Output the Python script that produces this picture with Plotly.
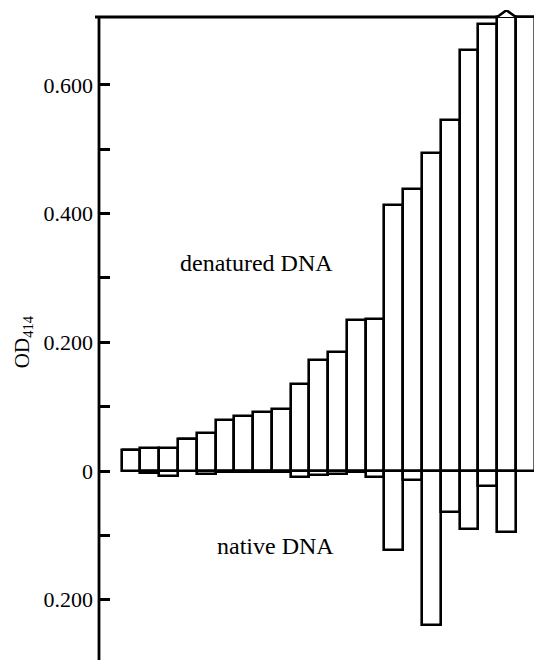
import plotly.graph_objects as go

# ---- data ----
fractions = list(range(1, 23))
denatured = [0.033, 0.036, 0.035, 0.049, 0.059, 0.079, 0.085, 0.091, 0.096, 0.135,
             0.173, 0.185, 0.234, 0.236, 0.413, 0.438, 0.494, 0.545, 0.655, 0.694,
             0.7055, 0.7055]
native = [0.0, -0.003, -0.007, 0.0, -0.005, -0.001, -0.001, -0.001, -0.002, -0.010,
          -0.006, -0.005, -0.002, -0.010, -0.122, -0.014, -0.240, -0.064, -0.090, -0.024,
          -0.095, None]
offscale_fraction = 21  # bar drawn with a pointed (off-scale) top

major_vals = [-0.2, 0.0, 0.2, 0.4, 0.6]
major_text = ["0.200", "0", "0.200", "0.400", "0.600"]
minor_vals = [-0.1, 0.1, 0.3, 0.5]

FRAME_TOP = 0.7055          # value at the top frame line
Y_RANGE = [-0.2937, 0.7164]
X_RANGE = [-0.709, 22.892]
FONT = "Liberation Serif"
LW = 2.6

fig = go.Figure()
bar_style = dict(marker=dict(color="white", line=dict(color="black", width=LW)), width=1.0)
fig.add_trace(go.Bar(x=fractions, y=denatured, name="denatured DNA", **bar_style))
fig.add_trace(go.Bar(x=fractions, y=native, name="native DNA", **bar_style))

# pointed top marking the off-scale bar
fig.add_trace(go.Scatter(
    x=[offscale_fraction - 0.5, offscale_fraction, offscale_fraction + 0.5],
    y=[FRAME_TOP, FRAME_TOP + 0.0105, FRAME_TOP],
    mode="lines", line=dict(color="black", width=LW),
    fill="toself", fillcolor="white", hoverinfo="skip"))

fig.update_layout(
    width=534, height=652, autosize=False,
    margin=dict(l=91, r=0, t=2, b=0, pad=0),
    paper_bgcolor="white", plot_bgcolor="white",
    barmode="relative", bargap=0, showlegend=False,
    font=dict(family=FONT, size=22, color="black"),
    xaxis=dict(range=X_RANGE, showline=False, showticklabels=False, ticks="",
               showgrid=False, zeroline=False),
    yaxis=dict(range=Y_RANGE, showline=False,
               tickmode="array", tickvals=major_vals, ticktext=major_text,
               ticks="inside", ticklen=11, tickwidth=LW, tickcolor="black",
               ticklabelstandoff=5,
               minor=dict(tickmode="array", tickvals=minor_vals, ticks="inside",
                          ticklen=11, tickwidth=LW, tickcolor="black", showgrid=False),
               tickfont=dict(family=FONT, size=22, color="black"),
               showgrid=False, zeroline=False),
    shapes=[
        # left axis line, up to the top frame
        dict(type="line", xref="paper", yref="y", x0=0, x1=0,
             y0=Y_RANGE[0], y1=FRAME_TOP, line=dict(color="black", width=2.8), layer="above"),
        # top frame line
        dict(type="line", xref="paper", yref="y", x0=-0.009, x1=1,
             y0=FRAME_TOP, y1=FRAME_TOP, line=dict(color="black", width=3), layer="below"),
    ],
    annotations=[
        dict(text="denatured DNA", x=7.7, y=0.323, xref="x", yref="y", showarrow=False,
             font=dict(family=FONT, size=24, color="black")),
        dict(text="native DNA", x=8.7, y=-0.117, xref="x", yref="y", showarrow=False,
             font=dict(family=FONT, size=24, color="black")),
        dict(text="OD<sub>414</sub>", x=-0.2054, y=0.489, xref="paper", yref="paper",
             textangle=-90, showarrow=False, xanchor="left", yanchor="middle",
             font=dict(family=FONT, size=21, color="black")),
    ],
)

fig.write_html("out.html")
